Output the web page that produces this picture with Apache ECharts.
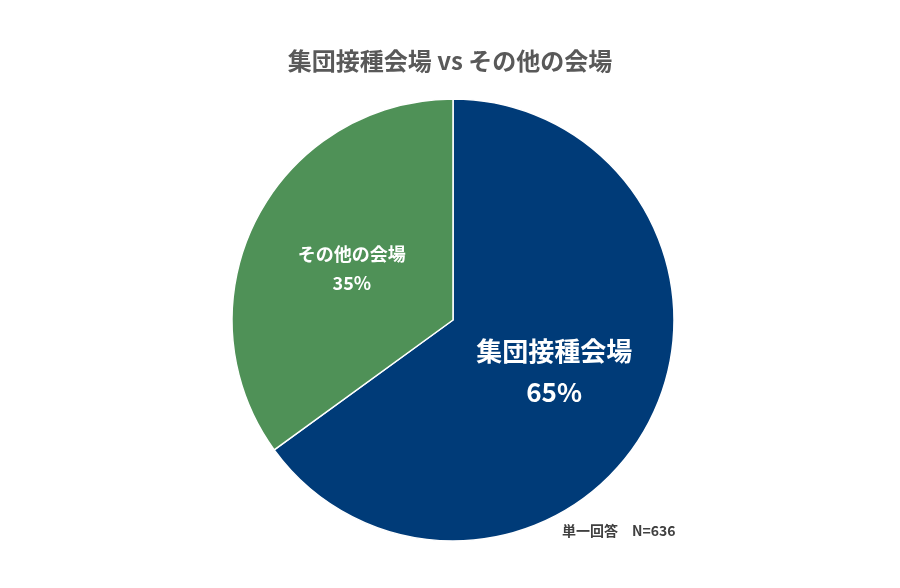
<!DOCTYPE html>
<html><head><meta charset="utf-8">
<script src="https://cdn.jsdelivr.net/npm/echarts@6/dist/echarts.min.js"></script>
<style>html,body{margin:0;padding:0;background:#fff}#c{width:900px;height:588px}</style>
</head><body><div id="c"></div>
<script>
const categories = ['集団接種会場', 'その他の会場'];
const values = [65, 35];
const colors = ['#003B78', '#4F9157'];
const labelSizes = [26, 18];
const chart = echarts.init(document.getElementById('c'));
chart.setOption({
  animation: false,
  title: {
    text: '集団接種会場 vs その他の会場', left: 'center', top: 44,
    textStyle: { fontFamily: 'Noto Sans CJK JP', fontSize: 24, fontWeight: 'bold', color: '#595959' }
  },
  graphic: [{
    type: 'text', left: 562, top: 524,
    style: { text: '単一回答　N=636', font: 'bold 14px "Noto Sans CJK JP"', fill: '#404040' }
  }],
  series: [{
    type: 'pie', center: [453, 320], radius: 221, startAngle: 90, clockwise: true,
    itemStyle: { borderColor: '#fff', borderWidth: 1.5 },
    label: {
      show: true, position: 'inside', color: '#fff', fontWeight: 'bold',
      fontFamily: 'Noto Sans CJK JP', lineHeight: 40
    },
    labelLine: { show: false },
    data: categories.map((n, i) => ({
      name: n, value: values[i],
      itemStyle: { color: colors[i] },
      label: { fontSize: labelSizes[i], lineHeight: labelSizes[i] * 1.6, formatter: '{b}\n{c}%' }
    }))
  }]
});
</script></body></html>
